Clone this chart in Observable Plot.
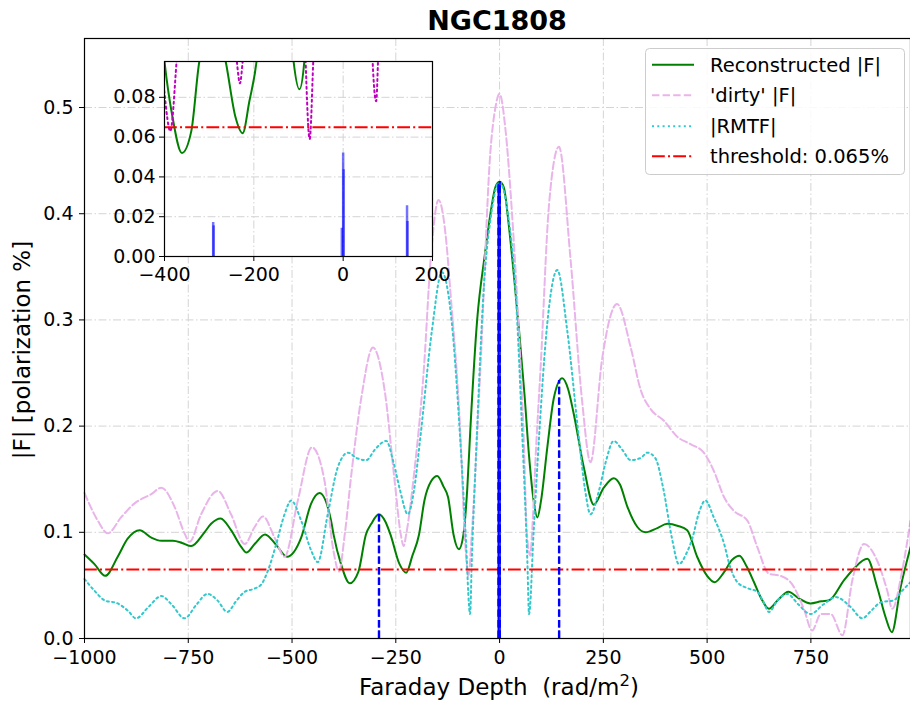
<!DOCTYPE html>
<html>
<head>
<meta charset="utf-8">
<script src="https://cdn.jsdelivr.net/npm/d3@7"></script>
<script src="https://cdn.jsdelivr.net/npm/@observablehq/plot@0.6"></script>
<style>
  html, body { margin: 0; padding: 0; background: white; }
  #wrap { position: relative; width: 910px; height: 704px; overflow: hidden; font-family: "DejaVu Sans", sans-serif; }
  #wrap > svg { position: absolute; }
  .pre { white-space: pre; }
</style>
</head>
<body>
<div id="wrap"></div>
<script>
// ---------- data ----------
const phiRecon = [-1000,-976,-950,-920,-896,-867,-839,-815,-787,-765,-743,-711,-695,-672,-647,-622,-610,-590,-565,-538,-512,-478,-454,-434,-406,-400,-382,-361,-340,-322,-309,-291,-275,-263,-241,-225,-210,-194,-181,-165,-150,-135,-124,-111,-98,-87,-78,-70,-54,-36,-20,-10,0,10,22,35,47,60,71,82,91,100,115,131,151,165,179,203,227,251,275,290,308,332,352,380,404,430,452,476,500,518,540,560,578,595,613,630,649,670,696,720,749,775,794,830,854,886,910,930,945,966,990];
const fRecon   = [0.079,0.070,0.059,0.077,0.094,0.102,0.095,0.092,0.092,0.090,0.087,0.100,0.108,0.113,0.102,0.086,0.081,0.089,0.098,0.088,0.077,0.095,0.127,0.137,0.111,0.098,0.070,0.052,0.063,0.098,0.108,0.117,0.110,0.098,0.070,0.062,0.078,0.098,0.130,0.148,0.153,0.143,0.133,0.098,0.084,0.098,0.140,0.200,0.300,0.360,0.405,0.425,0.430,0.425,0.390,0.340,0.290,0.230,0.172,0.130,0.114,0.130,0.180,0.227,0.245,0.235,0.211,0.161,0.126,0.142,0.151,0.145,0.124,0.105,0.100,0.104,0.108,0.106,0.102,0.077,0.059,0.053,0.062,0.074,0.078,0.068,0.053,0.038,0.028,0.036,0.044,0.038,0.033,0.035,0.036,0.055,0.066,0.075,0.048,0.020,0.006,0.048,0.086];

const phiDirty = [-1000,-968,-944,-912,-880,-839,-815,-783,-759,-747,-719,-679,-647,-614,-590,-570,-542,-518,-486,-452,-422,-400,-387,-373,-357,-333,-305,-277,-253,-238,-231,-225,-206,-182,-166,-147,-130,-118,-94,-84,-75,-67,-46,-22,-10,0,14,30,45,58,66,74,78,88,99,119,143,171,199,219,247,283,316,340,364,396,428,460,492,516,541,565,597,621,649,677,705,733,753,774,798,826,850,878,910,934,946,970,990];
const fDirty   = [0.137,0.111,0.099,0.114,0.127,0.136,0.142,0.124,0.099,0.091,0.117,0.139,0.117,0.089,0.105,0.115,0.095,0.077,0.130,0.180,0.149,0.082,0.063,0.098,0.155,0.227,0.274,0.234,0.149,0.098,0.087,0.098,0.155,0.256,0.357,0.413,0.380,0.324,0.189,0.098,0.059,0.098,0.256,0.459,0.500,0.513,0.480,0.400,0.300,0.190,0.098,0.078,0.098,0.180,0.256,0.408,0.463,0.357,0.223,0.166,0.263,0.315,0.274,0.234,0.216,0.205,0.190,0.183,0.175,0.158,0.133,0.120,0.111,0.086,0.061,0.059,0.051,0.028,0.0075,0.023,0.023,0.003,0.055,0.089,0.073,0.045,0.028,0.064,0.111];

const phiRmtf = [-1000,-976,-952,-920,-895,-876,-845,-815,-790,-759,-730,-704,-680,-656,-635,-614,-590,-574,-558,-538,-518,-502,-478,-454,-438,-414,-390,-365,-345,-321,-300,-273,-255,-240,-221,-206,-191,-163,-139,-115,-95,-82,-71,-67,-55,-39,-20,0,20,39,55,67,71,82,95,115,139,163,191,206,219,240,255,275,295,316,340,356,375,395,415,432,450,465,480,496,515,541,555,573,600,621,635,649,670,693,720,749,780,810,845,874,895,918,950,970,990];
const fRmtf   = [0.056,0.045,0.036,0.033,0.026,0.019,0.030,0.040,0.032,0.019,0.032,0.042,0.036,0.025,0.035,0.044,0.047,0.051,0.064,0.089,0.117,0.130,0.111,0.083,0.072,0.117,0.161,0.175,0.170,0.168,0.178,0.186,0.165,0.140,0.117,0.140,0.189,0.290,0.345,0.297,0.189,0.100,0.023,0.072,0.189,0.324,0.400,0.430,0.400,0.324,0.189,0.072,0.023,0.100,0.189,0.297,0.347,0.290,0.189,0.140,0.117,0.140,0.165,0.186,0.178,0.168,0.170,0.175,0.170,0.140,0.095,0.070,0.080,0.095,0.118,0.130,0.115,0.089,0.068,0.053,0.047,0.044,0.035,0.025,0.036,0.042,0.032,0.023,0.032,0.039,0.030,0.019,0.026,0.034,0.036,0.045,0.053];

const threshold = 0.065;

// clean components
const compPhi = [-291,-290,-3,0,1,143,144];
const compAmp = [0.0171,0.0154,0.0142,0.052,0.0436,0.0255,0.0176];
const compTop = [0.117,0.117,0.428,0.430,0.430,0.243,0.243];

const xTicks = [-1000,-750,-500,-250,0,250,500,750];
const yTicks = [0.0,0.1,0.2,0.3,0.4,0.5];
const insetXTicks = [-400,-200,0,200];
const insetYTicks = [0.00,0.02,0.04,0.06,0.08];

const title = "NGC1808";
const xLabel = "Faraday Depth\u00a0\u00a0(rad/m";
const yLabel = "|F| [polarization %]";
const legendLabels = ["Reconstructed |F|", "'dirty' |F|", "|RMTF|", "threshold: 0.065%"];

// ---------- tables ----------
const recon = phiRecon.map((p,i) => ({phi:p, f:fRecon[i]}));
const dirty = phiDirty.map((p,i) => ({phi:p, f:fDirty[i]}));
const rmtf  = phiRmtf.map((p,i) => ({phi:p, f:fRmtf[i]}));
const comps = compPhi.map((p,i) => ({phi:p, amp:compAmp[i], top:compTop[i]}));

const fmtMinus = d => d < 0 ? "\u2212" + (-d) : String(d);
const GRID = "#d4d4d4";
const GRIDDASH = "8,2.5,1.5,2.5";
const C_GREEN = "#008000", C_PINK = "#e9b4e9", C_CYAN = "#33c8cb", C_RED = "#ff0000", C_MAG = "#bf00bf";

const wrap = document.getElementById("wrap");

// ---------- main chart ----------
const main = Plot.plot({
  width: 910, height: 704,
  marginLeft: 84, marginRight: 0, marginTop: 38, marginBottom: 66,
  style: {fontFamily: "DejaVu Sans", fontSize: "19px", background: "transparent", color: "black", overflow: "visible"},
  x: {domain: [-1000, 990], ticks: xTicks, tickFormat: fmtMinus, tickSize: 5, tickPadding: 7, label: null},
  y: {domain: [0, 0.565], ticks: yTicks, tickFormat: d3.format(".1f"), tickSize: 5, tickPadding: 6, label: null},
  marks: [
    Plot.ruleX(xTicks, {stroke: GRID, strokeWidth: 1, strokeDasharray: GRIDDASH}),
    Plot.ruleY(yTicks.slice(1), {stroke: GRID, strokeWidth: 1, strokeDasharray: GRIDDASH}),
    Plot.line(recon, {x: "phi", y: "f", stroke: C_GREEN, strokeWidth: 2, curve: "monotone-x"}),
    Plot.line(dirty, {x: "phi", y: "f", stroke: C_PINK, strokeWidth: 2, strokeDasharray: "7.4,3.2", curve: "monotone-x"}),
    Plot.line(rmtf, {x: "phi", y: "f", stroke: C_CYAN, strokeWidth: 2, strokeDasharray: "2,3.3", curve: "monotone-x"}),
    Plot.ruleY([threshold], {stroke: C_RED, strokeWidth: 2, strokeDasharray: "12.8,3.2,2,3.2"}),
    Plot.ruleX(comps, {x: "phi", y1: 0, y2: "top", stroke: "blue", strokeWidth: 2, strokeDasharray: "7.4,3.2"}),
    Plot.ruleX(comps.filter(d => Math.abs(d.phi) < 10 && d.phi !== 0), {x: "phi", y1: 0, y2: "top", stroke: "blue", strokeWidth: 1.6}),
    Plot.frame({stroke: "black", strokeWidth: 1.2})
  ]
});
main.style.left = "0px"; main.style.top = "0px";
wrap.appendChild(main);

// ---------- inset ----------
const inset = Plot.plot({
  width: 362, height: 246,
  marginLeft: 64, marginRight: 30, marginTop: 11, marginBottom: 40,
  style: {fontFamily: "DejaVu Sans", fontSize: "19px", background: "transparent", color: "black", overflow: "visible"},
  x: {domain: [-400, 200], ticks: insetXTicks, tickFormat: fmtMinus, tickSize: 5, tickPadding: 6, label: null},
  y: {domain: [0, 0.098], ticks: insetYTicks, tickFormat: d3.format(".2f"), tickSize: 5, tickPadding: 4, label: null},
  marks: [
    Plot.frame({fill: "white", stroke: "none"}),
    Plot.ruleX(insetXTicks.slice(1, 3), {stroke: GRID, strokeWidth: 1, strokeDasharray: GRIDDASH}),
    Plot.ruleY(insetYTicks.slice(1), {stroke: GRID, strokeWidth: 1, strokeDasharray: GRIDDASH}),
    Plot.line(recon, {x: "phi", y: "f", stroke: C_GREEN, strokeWidth: 2, curve: "monotone-x", clip: true}),
    Plot.line(dirty, {x: "phi", y: "f", stroke: C_MAG, strokeWidth: 2, strokeDasharray: "2,3.3", curve: "monotone-x", clip: true}),
    Plot.ruleY([threshold], {stroke: C_RED, strokeWidth: 2, strokeDasharray: "12.8,3.2,2,3.2"}),
    Plot.ruleX(comps, {x: "phi", y1: 0, y2: "amp", stroke: "blue", strokeOpacity: 0.55, strokeWidth: 2.5}),
    Plot.frame({stroke: "black", strokeWidth: 1.2})
  ]
});
inset.style.left = "100px"; inset.style.top = "50px";
wrap.appendChild(inset);

// ---------- overlay: title, axis labels, legend ----------
const ov = d3.create("svg").attr("width", 910).attr("height", 704)
  .style("left", "0px").style("top", "0px")
  .style("font-family", "DejaVu Sans");

ov.append("text").attr("x", 497).attr("y", 30).attr("text-anchor", "middle")
  .attr("font-size", 27).attr("font-weight", "bold").text(title);

const xl = ov.append("text").attr("class", "pre").attr("x", 499).attr("y", 695).attr("text-anchor", "middle").attr("font-size", 23);
xl.append("tspan").text(xLabel);
xl.append("tspan").attr("font-size", 16.5).attr("dy", -9).text("2");
xl.append("tspan").attr("dy", 9).text(")");

ov.append("text").attr("transform", "translate(30,350) rotate(-90)").attr("text-anchor", "middle")
  .attr("font-size", 23).text(yLabel);

// legend
const lg = ov.append("g");
lg.append("rect").attr("x", 645.5).attr("y", 48.5).attr("width", 259).attr("height", 126).attr("rx", 4)
  .attr("fill", "white").attr("fill-opacity", 0.85).attr("stroke", "#cccccc").attr("stroke-width", 1);
const rows = [
  {stroke: C_GREEN, dash: null},
  {stroke: C_PINK, dash: "7.4,3.2"},
  {stroke: C_CYAN, dash: "2,3.3"},
  {stroke: C_RED, dash: "12.8,3.2,2,3.2"}
];
const rowY = [64.7, 95.3, 126.3, 156.3];
rows.forEach((r, i) => {
  const ln = lg.append("line").attr("x1", 652).attr("x2", 694).attr("y1", rowY[i]).attr("y2", rowY[i])
    .attr("stroke", r.stroke).attr("stroke-width", 2);
  if (r.dash) ln.attr("stroke-dasharray", r.dash);
  lg.append("text").attr("x", 710).attr("y", rowY[i] + 7).attr("font-size", 19.5).text(legendLabels[i]);
});
wrap.appendChild(ov.node());
</script>
</body>
</html>
